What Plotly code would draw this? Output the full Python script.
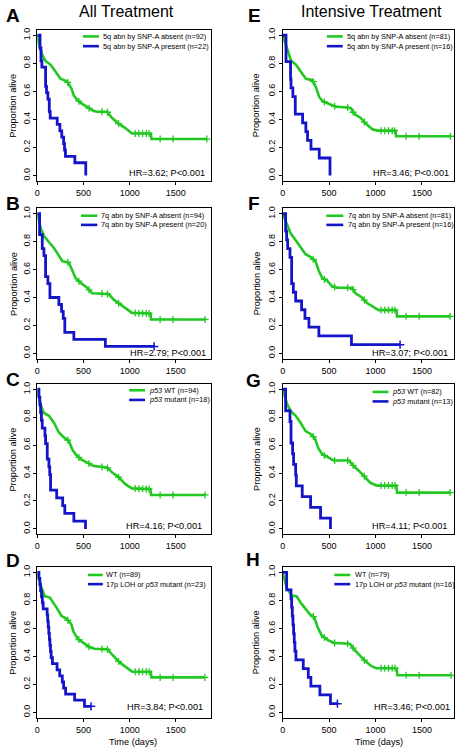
import numpy as np
import plotly.graph_objects as go

W, H = 458, 748
GREEN = '#22c822'
BLUE = '#1414c8'
FONT = 'Arial, Liberation Sans, sans-serif'

# ---------------- data ----------------
x_ticks = [0, 500, 1000, 1500]
y_ticks = [0.0, 0.2, 0.4, 0.6, 0.8, 1.0]
y_tick_labels = ['0.0', '0.2', '0.4', '0.6', '0.8', '1.0']
col_titles = ['All Treatment', 'Intensive Treatment']
panel_letters = ['A', 'B', 'C', 'D', 'E', 'F', 'G', 'H']

# Panel A
A_green_t = [0, 20, 54, 90, 144, 198, 252, 324, 370, 396, 432, 486, 558, 612, 650, 755, 810, 880, 950, 1025, 1228, 1236, 1835]
A_green_s = [1, 0.93, 0.86, 0.815, 0.79, 0.74, 0.69, 0.67, 0.62, 0.57, 0.54, 0.51, 0.48, 0.46, 0.455, 0.455, 0.41, 0.37, 0.34, 0.30, 0.30, 0.26, 0.26]
A_green_c = [330, 450, 560, 700, 760, 880, 1060, 1100, 1140, 1180, 1210, 1330, 1470, 1835]
A_blue_t = [0, 30, 40, 50, 90, 100, 115, 130, 140, 216, 245, 265, 285, 295, 305, 407, 525]
A_blue_s = [1, 0.909, 0.818, 0.773, 0.636, 0.591, 0.545, 0.455, 0.409, 0.364, 0.318, 0.273, 0.227, 0.182, 0.136, 0.091, 0.0]
A_blue_c = []
A_labels = ['5q abn by SNP-A absent (n=92)', '5q abn by SNP-A present (n=22)']
A_hr = 'HR=3.62; P<0.001'

# Panel B
B_green_t = [0, 36, 72, 126, 180, 234, 270, 342, 378, 414, 468, 540, 594, 648, 773, 827, 900, 971, 1025, 1225, 1232, 1817]
B_green_s = [1, 0.90, 0.84, 0.80, 0.755, 0.70, 0.66, 0.65, 0.60, 0.54, 0.505, 0.47, 0.43, 0.43, 0.425, 0.385, 0.35, 0.31, 0.29, 0.285, 0.243, 0.243]
B_green_c = [330, 450, 560, 700, 760, 880, 1060, 1100, 1140, 1180, 1210, 1330, 1470, 1817]
B_blue_t = [0, 25, 54, 72, 90, 115, 137, 234, 263, 281, 298, 396, 737, 1265]
B_blue_s = [1, 0.85, 0.75, 0.70, 0.55, 0.50, 0.40, 0.35, 0.30, 0.25, 0.15, 0.10, 0.05, 0.05]
B_blue_c = [1265]
B_labels = ['7q abn by SNP-A absent (n=94)', '7q abn by SNP-A present (n=20)']
B_hr = 'HR=2.79; P<0.001'

# Panel C
C_green_t = [0, 36, 72, 126, 180, 234, 288, 342, 378, 414, 468, 540, 612, 755, 809, 881, 953, 1025, 1225, 1232, 1817]
C_green_s = [1, 0.89, 0.83, 0.81, 0.76, 0.69, 0.655, 0.63, 0.57, 0.535, 0.50, 0.476, 0.45, 0.44, 0.405, 0.37, 0.32, 0.29, 0.285, 0.243, 0.243]
C_green_c = [330, 450, 560, 700, 760, 880, 1060, 1100, 1140, 1180, 1210, 1330, 1470, 1817]
C_blue_t = [0, 18, 28, 36, 45, 54, 83, 90, 108, 126, 135, 144, 210, 275, 298, 396, 522]
C_blue_s = [1, 0.944, 0.889, 0.833, 0.778, 0.722, 0.667, 0.611, 0.5, 0.444, 0.389, 0.278, 0.222, 0.167, 0.111, 0.056, 0.0]
C_blue_c = []
C_labels = ['<i>p53</i> WT (n=94)', '<i>p53</i> mutant (n=18)']
C_hr = 'HR=4.16; P<0.001'

# Panel D
D_green_t = [0, 46, 82, 136, 207, 261, 314, 368, 393, 439, 493, 564, 618, 761, 814, 886, 957, 1029, 1228, 1236, 1814]
D_green_s = [1, 0.89, 0.83, 0.82, 0.75, 0.69, 0.67, 0.63, 0.575, 0.525, 0.50, 0.467, 0.455, 0.45, 0.41, 0.36, 0.325, 0.29, 0.29, 0.25, 0.25]
D_green_c = [330, 450, 560, 700, 760, 880, 1060, 1100, 1140, 1180, 1210, 1330, 1470, 1814]
D_blue_t = [0, 18, 28, 36, 46, 55, 64, 107, 113, 119, 125, 131, 137, 143, 150, 164, 214, 243, 271, 285, 307, 404, 511, 582]
D_blue_s = [1, 0.957, 0.913, 0.870, 0.826, 0.783, 0.739, 0.696, 0.652, 0.609, 0.565, 0.522, 0.478, 0.435, 0.391, 0.348, 0.304, 0.261, 0.217, 0.174, 0.130, 0.087, 0.043, 0.043]
D_blue_c = [582]
D_labels = ['WT (n=89)', '17p LOH or <i>p53</i> mutant (n=23)']
D_hr = 'HR=3.84; P<0.001'

# Panel E
E_green_t = [0, 36, 72, 90, 143, 197, 250, 322, 358, 394, 430, 501, 573, 698, 734, 770, 841, 895, 966, 1020, 1215, 1222, 1807]
E_green_s = [1, 0.93, 0.86, 0.82, 0.79, 0.74, 0.69, 0.68, 0.63, 0.56, 0.53, 0.51, 0.49, 0.485, 0.48, 0.44, 0.41, 0.37, 0.33, 0.32, 0.32, 0.28, 0.28]
E_green_c = [330, 450, 560, 700, 760, 880, 1060, 1100, 1140, 1180, 1205, 1330, 1470, 1807]
E_blue_t = [0, 36, 85, 90, 110, 136, 215, 250, 268, 305, 394, 510]
E_blue_s = [1, 0.8125, 0.6875, 0.625, 0.5625, 0.4375, 0.375, 0.3125, 0.25, 0.1875, 0.125, 0.0]
E_blue_c = []
E_labels = ['5q abn by SNP-A absent (n=81)', '5q abn by SNP-A present (n=16)']
E_hr = 'HR=3.46; P<0.001'

# Panel F
F_green_t = [0, 50, 86, 140, 193, 247, 301, 354, 390, 426, 480, 533, 587, 748, 784, 855, 909, 981, 1034, 1225, 1232, 1804]
F_green_s = [1, 0.91, 0.86, 0.81, 0.76, 0.71, 0.69, 0.66, 0.59, 0.54, 0.52, 0.48, 0.47, 0.47, 0.43, 0.40, 0.36, 0.33, 0.31, 0.31, 0.265, 0.265]
F_green_c = [330, 450, 560, 700, 760, 880, 1060, 1100, 1140, 1180, 1210, 1330, 1470, 1804]
F_blue_t = [0, 32, 43, 54, 79, 97, 115, 140, 204, 240, 283, 390, 741, 1265]
F_blue_s = [1, 0.875, 0.8125, 0.75, 0.6875, 0.5, 0.4375, 0.375, 0.3125, 0.25, 0.1875, 0.125, 0.0625, 0.0625]
F_blue_c = [1265]
F_labels = ['7q abn by SNP-A absent (n=81)', '7q abn by SNP-A present (n=16)']
F_hr = 'HR=3.07; P<0.001'

# Panel G
G_green_t = [0, 50, 86, 140, 193, 247, 301, 347, 383, 426, 480, 551, 712, 766, 838, 891, 945, 1016, 1225, 1232, 1804]
G_green_s = [1, 0.89, 0.845, 0.81, 0.76, 0.70, 0.68, 0.65, 0.58, 0.535, 0.515, 0.49, 0.49, 0.45, 0.405, 0.37, 0.33, 0.31, 0.31, 0.26, 0.26]
G_green_c = [330, 450, 560, 700, 760, 880, 1060, 1100, 1140, 1180, 1210, 1330, 1470, 1804]
G_blue_t = [0, 32, 79, 90, 107, 118, 140, 147, 211, 301, 408, 515]
G_blue_s = [1, 0.846, 0.769, 0.615, 0.538, 0.462, 0.385, 0.308, 0.231, 0.154, 0.077, 0.0]
G_blue_c = []
G_labels = ['<i>p53</i> WT (n=82)', '<i>p53</i> mutant (n=13)']
G_hr = 'HR=4.11; P<0.001'

# Panel H
H_green_t = [0, 43, 97, 150, 204, 258, 293, 340, 376, 419, 490, 562, 723, 777, 830, 884, 956, 1009, 1228, 1236, 1815]
H_green_s = [1, 0.89, 0.834, 0.83, 0.775, 0.73, 0.70, 0.68, 0.61, 0.55, 0.515, 0.495, 0.49, 0.445, 0.41, 0.37, 0.33, 0.315, 0.315, 0.265, 0.265]
H_green_c = [330, 450, 560, 700, 760, 880, 1060, 1100, 1140, 1180, 1210, 1330, 1470, 1815]
H_blue_t = [0, 43, 90, 97, 104, 111, 118, 125, 132, 143, 222, 276, 304, 401, 515, 590]
H_blue_s = [1, 0.875, 0.8125, 0.75, 0.6875, 0.625, 0.5625, 0.5, 0.4375, 0.375, 0.3125, 0.25, 0.1875, 0.125, 0.0625, 0.0625]
H_blue_c = [590]
H_labels = ['WT (n=79)', '17p LOH or <i>p53</i> mutant (n=16)']
H_hr = 'HR=3.46; P<0.001'

# ---------------- layout geometry (pixels) ----------------
def px(x):
    return x / W

def py(y):
    return 1 - y / H

col_x = [(34.5, 209.3), (281.5, 454.0)]
col_range = [[0, 1880], [0, 1846]]
row_y = [(27.7, 179.6), (206.7, 357.9), (382.7, 533.9), (566.3, 717.9)]

panels = [
    ('A', 0, 0, A_green_t, A_green_s, A_green_c, A_blue_t, A_blue_s, A_blue_c, A_labels, A_hr),
    ('B', 0, 1, B_green_t, B_green_s, B_green_c, B_blue_t, B_blue_s, B_blue_c, B_labels, B_hr),
    ('C', 0, 2, C_green_t, C_green_s, C_green_c, C_blue_t, C_blue_s, C_blue_c, C_labels, C_hr),
    ('D', 0, 3, D_green_t, D_green_s, D_green_c, D_blue_t, D_blue_s, D_blue_c, D_labels, D_hr),
    ('E', 1, 0, E_green_t, E_green_s, E_green_c, E_blue_t, E_blue_s, E_blue_c, E_labels, E_hr),
    ('F', 1, 1, F_green_t, F_green_s, F_green_c, F_blue_t, F_blue_s, F_blue_c, F_labels, F_hr),
    ('G', 1, 2, G_green_t, G_green_s, G_green_c, G_blue_t, G_blue_s, G_blue_c, G_labels, G_hr),
    ('H', 1, 3, H_green_t, H_green_s, H_green_c, H_blue_t, H_blue_s, H_blue_c, H_labels, H_hr),
]

# legend geometry: (line x0, line x1, text x, row1 y, row2 y)
legend_geo = {
    'A': (80.5, 96.5, 98.5, 34.5, 44.3),
    'B': (78.5, 95.0, 97.0, 214.3, 223.5),
    'C': (127.0, 143.0, 145.0, 389.3, 399.0),
    'D': (85.5, 100.5, 102.0, 574.5, 583.7),
    'E': (326.0, 342.0, 344.0, 34.5, 44.3),
    'F': (325.5, 342.5, 345.0, 214.3, 223.5),
    'G': (372.0, 388.0, 390.0, 391.0, 400.5),
    'H': (333.5, 349.5, 352.0, 574.5, 583.7),
}
hr_geo = {
    'A': (205.5, 171.7), 'B': (206.5, 351.5), 'C': (202.5, 525.7), 'D': (203.0, 706.7),
    'E': (450.5, 171.7), 'F': (450.0, 351.5), 'G': (448.5, 525.7), 'H': (451.5, 706.7),
}
letter_geo = {
    'A': (1.5, 13.5), 'B': (1.5, 202.5), 'C': (1.5, 378.5), 'D': (1.5, 559.5),
    'E': (244.5, 13.5), 'F': (244.5, 202.5), 'G': (242.5, 379.5), 'H': (242.5, 558.5),
}


def step_at(t, s, c):
    idx = np.searchsorted(np.asarray(t, float), c, side='right') - 1
    return float(np.asarray(s)[idx])


fig = go.Figure()
annotations = []
shapes = []
layout = {}

for i, (key, col, row, gt, gs, gc, bt, bs, bc, labels, hr) in enumerate(panels, start=1):
    xa = 'x' if i == 1 else f'x{i}'
    ya = 'y' if i == 1 else f'y{i}'
    # green curve
    fig.add_trace(go.Scatter(x=gt, y=gs, mode='lines', line=dict(color=GREEN, width=2.6),
                             xaxis=xa, yaxis=ya, showlegend=False, hoverinfo='skip'))
    fig.add_trace(go.Scatter(x=gc, y=[float(np.interp(c, gt, gs)) for c in gc], mode='markers',
                             marker=dict(symbol='cross-thin', size=5, color=GREEN,
                                         line=dict(width=1.3, color=GREEN)),
                             xaxis=xa, yaxis=ya, showlegend=False, hoverinfo='skip', cliponaxis=False))
    # blue curve
    fig.add_trace(go.Scatter(x=bt, y=bs, mode='lines', line=dict(color=BLUE, width=2.8, shape='hv'),
                             xaxis=xa, yaxis=ya, showlegend=False, hoverinfo='skip'))
    if bc:
        fig.add_trace(go.Scatter(x=bc, y=[step_at(bt, bs, c) for c in bc], mode='markers',
                                 marker=dict(symbol='cross-thin', size=6, color=BLUE,
                                             line=dict(width=1.5, color=BLUE)),
                                 xaxis=xa, yaxis=ya, showlegend=False, hoverinfo='skip', cliponaxis=False))

    x0, x1 = col_x[col]
    y0, y1 = row_y[row]
    axis_common = dict(showline=True, mirror=True, linecolor='black', linewidth=1,
                       showgrid=False, zeroline=False, ticks='outside', ticklen=3,
                       tickwidth=1, tickcolor='black',
                       tickfont=dict(family=FONT, size=9, color='black'))
    layout['xaxis' if i == 1 else f'xaxis{i}'] = dict(
        domain=[px(x0), px(x1)], range=col_range[col], tickvals=x_ticks,
        anchor=ya, **axis_common)
    layout['yaxis' if i == 1 else f'yaxis{i}'] = dict(
        domain=[py(y1), py(y0)], range=[-0.04, 1.04], tickvals=y_ticks,
        ticktext=y_tick_labels, tickangle=-90, anchor=xa, **axis_common)

    # legend
    lx0, lx1, tx, r1, r2 = legend_geo[key]
    for (yy, colr, lab) in [(r1, GREEN, labels[0]), (r2, BLUE, labels[1])]:
        shapes.append(dict(type='line', xref='paper', yref='paper', x0=px(lx0), x1=px(lx1),
                           y0=py(yy), y1=py(yy), line=dict(color=colr, width=2.6)))
        annotations.append(dict(text=lab, xref='paper', yref='paper', x=px(tx), y=py(yy),
                                xanchor='left', yanchor='middle', showarrow=False,
                                font=dict(family=FONT, size=7.3, color='black')))
    hx, hy = hr_geo[key]
    annotations.append(dict(text=hr, xref='paper', yref='paper', x=px(hx), y=py(hy),
                            xanchor='right', yanchor='middle', showarrow=False,
                            font=dict(family=FONT, size=9.2, color='black')))
    lxp, lyp = letter_geo[key]
    annotations.append(dict(text=f'<b>{key}</b>', xref='paper', yref='paper', x=px(lxp), y=py(lyp),
                            xanchor='left', yanchor='middle', showarrow=False,
                            font=dict(family=FONT, size=19, color='black')))
    # y-axis title
    annotations.append(dict(text='Proportion alive', xref='paper', yref='paper',
                            x=px(10.5 if col == 0 else 255.5), y=py((y0 + y1) / 2),
                            xanchor='center', yanchor='middle', textangle=-90, showarrow=False,
                            font=dict(family=FONT, size=9.2, color='black')))

# column titles
annotations.append(dict(text=col_titles[0], xref='paper', yref='paper', x=px(124.5), y=py(9.5),
                        xanchor='center', yanchor='middle', showarrow=False,
                        font=dict(family=FONT, size=16, color='black')))
annotations.append(dict(text=col_titles[1], xref='paper', yref='paper', x=px(371), y=py(9.5),
                        xanchor='center', yanchor='middle', showarrow=False,
                        font=dict(family=FONT, size=16, color='black')))
# x-axis titles
for xc in (131, 378):
    annotations.append(dict(text='Time (days)', xref='paper', yref='paper', x=px(xc), y=py(742),
                            xanchor='center', yanchor='middle', showarrow=False,
                            font=dict(family=FONT, size=9.2, color='black')))

fig.update_layout(width=W, height=H, margin=dict(l=0, r=0, t=0, b=0),
                  paper_bgcolor='white', plot_bgcolor='white',
                  annotations=annotations, shapes=shapes, showlegend=False, **layout)

fig.write_html('out.html', config={'displayModeBar': False},
               post_script="document.body.style.margin='0';document.body.style.overflow='hidden';")
